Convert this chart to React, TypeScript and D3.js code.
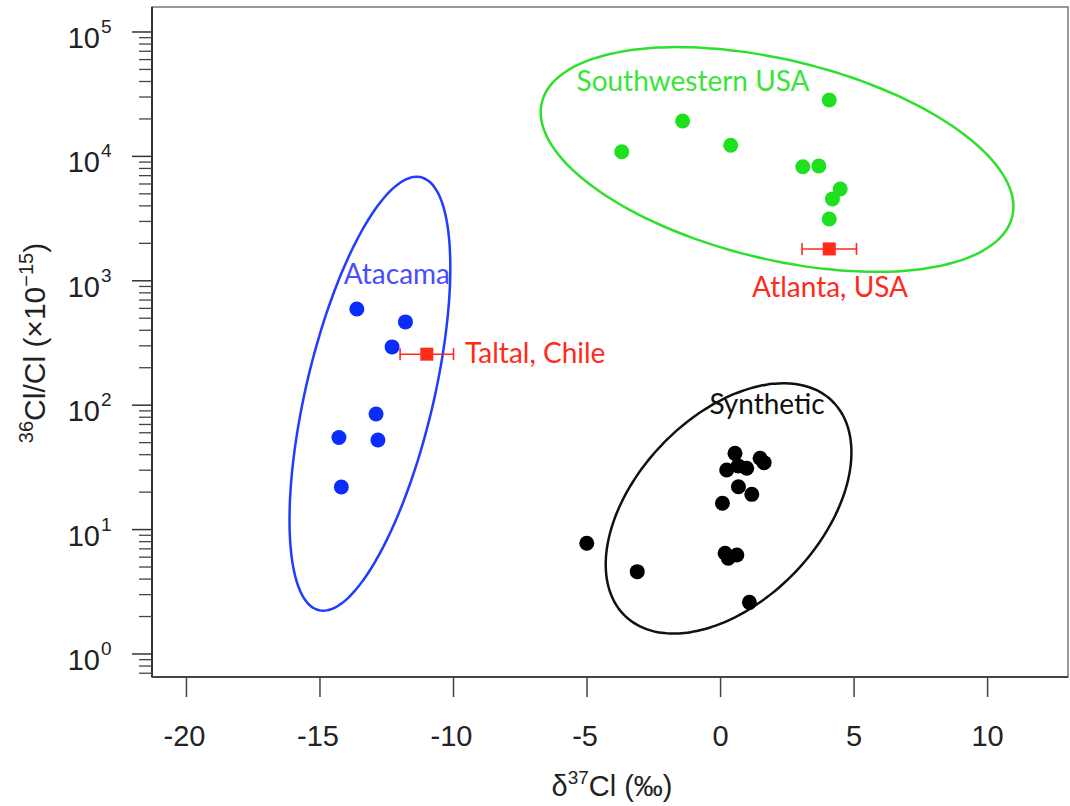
import React from "react";
import * as d3 from "d3";

// ---- Data ----
const atacamaX = [-13.62, -11.8, -12.3, -12.9, -14.29, -12.83, -14.2];
const atacamaY = [593, 467, 294, 85, 55, 52.5, 22];

const swusaX = [4.07, -1.42, -3.7, 0.38, 3.08, 3.68, 4.48, 4.19, 4.07];
const swusaY = [28400, 19270, 10900, 12280, 8260, 8370, 5470, 4550, 3140];

const synthX = [0.54, 1.48, 1.63, 0.23, 0.98, 0.66, 0.67, 1.17, 0.07, -5.01, -3.12, 0.17, 0.29, 0.61, 1.08];
const synthY = [41, 37.4, 34.5, 30.1, 31.1, 32.5, 22.1, 19.2, 16.3, 7.76, 4.59, 6.45, 5.88, 6.25, 2.6];

const sampleNames = ["Taltal, Chile", "Atlanta, USA"];
const sampleX = [-11.0, 4.07];
const sampleY = [257, 1803];
const sampleErr = [1.0, 1.02];

// ellipses: center (x, log10 y) + two conjugate semi-axis vectors
const ellipseNames = ["Atacama", "Southwestern USA", "Synthetic"];
const ellipseCx = [-13.13, 2.116, 0.3];
const ellipseCly = [2.092, 3.975, 1.17];
const ellipseUx = [1.75, 8.85, 4.6];
const ellipseUly = [1.744, -0.379, 0.45];
const ellipseVx = [2.45, 0, 0];
const ellipseVly = [0, 0.82, 0.9];

const groupLabelX = [-12.12, -1.03, 1.74];
const groupLabelY = [942, 33550, 85];
const sampleLabelX = [-9.57, 4.1];
const sampleLabelY = [218, 741];

const xTicks = [-20, -15, -10, -5, 0, 5, 10];
const yMajor = [0, 1, 2, 3, 4, 5];

export default function App() {
  const W = 1070, H = 806;
  const left = 152, right = 1068, top = 7, bottom = 677;
  const x = d3.scaleLinear().domain([-21.29, 13.01]).range([left, right]);
  const y = d3.scaleLog().domain([0.653, 158800]).range([bottom, top]);

  const minor: number[] = [];
  for (let e = -1; e <= 5; e++) {
    for (let m = 2; m <= 9; m++) {
      const v = m * Math.pow(10, e);
      const py = y(v);
      if (py <= bottom && py >= top) minor.push(v);
    }
  }

  const groups = [
    { xs: atacamaX, ys: atacamaY, color: "#0a2cff", ecolor: "#1f3cff", lcolor: "#4a4cff" },
    { xs: swusaX, ys: swusaY, color: "#1ee01e", ecolor: "#2ee02e", lcolor: "#3ae43a" },
    { xs: synthX, ys: synthY, color: "#000000", ecolor: "#111111", lcolor: "#111111" },
  ];

  const ellipsePath = (i: number) => {
    const pts: [number, number][] = d3.range(0, 361, 3).map((deg) => {
      const t = (deg * Math.PI) / 180;
      const vx = ellipseCx[i] + ellipseUx[i] * Math.cos(t) + ellipseVx[i] * Math.sin(t);
      const vly = ellipseCly[i] + ellipseUly[i] * Math.cos(t) + ellipseVly[i] * Math.sin(t);
      return [x(vx), y(Math.pow(10, vly))];
    });
    return d3.line().curve(d3.curveCardinalClosed)(pts.slice(0, -1)) as string;
  };

  const red = "#ff2a1a";
  const sans = "'Liberation Sans', Arial, sans-serif";
  const calib = "Lato, 'Open Sans', sans-serif";

  return (
    <svg width={W} height={H} style={{ position: "absolute", left: 0, top: 0, background: "#fff" }}>
      {/* frame */}
      <rect x={left} y={top} width={right - left} height={bottom - top} fill="none" stroke="#777" strokeWidth={1.5} />
      <line x1={left} x2={left} y1={top} y2={bottom} stroke="#333" strokeWidth={2} />
      <line x1={left} x2={right} y1={bottom} y2={bottom} stroke="#444" strokeWidth={2} />

      {/* y ticks */}
      {yMajor.map((e) => (
        <g key={"ym" + e}>
          <line x1={left - 20} x2={left} y1={y(Math.pow(10, e))} y2={y(Math.pow(10, e))} stroke="#333" strokeWidth={1.5} />
          <text x={100} y={y(Math.pow(10, e)) + 16} textAnchor="end" fontFamily={sans} fontSize={29} fill="#222">10</text>
          <text x={101} y={y(Math.pow(10, e)) + 1} textAnchor="start" fontFamily={sans} fontSize={19} fill="#222">{e}</text>
        </g>
      ))}
      {minor.map((v, i) => (
        <line key={"yn" + i} x1={left - 13} x2={left} y1={y(v)} y2={y(v)} stroke="#444" strokeWidth={1.3} />
      ))}

      {/* x ticks */}
      {xTicks.map((t) => (
        <g key={"xt" + t}>
          <line x1={x(t)} x2={x(t)} y1={bottom} y2={bottom + 20} stroke="#444" strokeWidth={1.5} />
          <text x={x(t) - (t < 0 ? 2 : 0)} y={746} textAnchor="middle" fontFamily={sans} fontSize={29} fill="#222">{t}</text>
        </g>
      ))}

      {/* axis titles */}
      <text x={612} y={796} textAnchor="middle" fontFamily={sans} fontSize={29} fill="#222">
        δ<tspan fontSize={19} dy={-12}>37</tspan><tspan dy={12}>Cl (‰)</tspan>
      </text>
      <text transform={`translate(45,343) rotate(-90)`} textAnchor="middle" fontFamily={sans} fontSize={30} fill="#222">
        <tspan fontSize={20} dy={-12}>36</tspan><tspan dy={12}>Cl/Cl (×10</tspan><tspan fontSize={20} dy={-12}>−15</tspan><tspan dy={12}>)</tspan>
      </text>

      {/* ellipses */}
      {groups.map((g, i) => (
        <path key={"el" + i} d={ellipsePath(i)} fill="none" stroke={g.ecolor} strokeWidth={2.5} />
      ))}

      {/* points */}
      {groups.map((g, gi) =>
        g.xs.map((v, i) => <circle key={`p${gi}-${i}`} cx={x(v)} cy={y(g.ys[i])} r={7.5} fill={g.color} />)
      )}

      {/* group labels */}
      {ellipseNames.map((n, i) => (
        <text key={"gl" + i} x={x(groupLabelX[i])} y={y(groupLabelY[i])} textAnchor="middle" fontFamily={calib} fontSize={28} fill={groups[i].lcolor}>{n}</text>
      ))}

      {/* samples with error bars */}
      {sampleNames.map((n, i) => {
        const cx = x(sampleX[i]);
        const cy = y(sampleY[i]);
        const x0 = x(sampleX[i] - sampleErr[i]);
        const x1 = x(sampleX[i] + sampleErr[i]);
        return (
          <g key={"s" + i}>
            <line x1={x0} x2={x1} y1={cy} y2={cy} stroke={red} strokeWidth={1.6} />
            <line x1={x0} x2={x0} y1={cy - 6} y2={cy + 6} stroke={red} strokeWidth={1.6} />
            <line x1={x1} x2={x1} y1={cy - 6} y2={cy + 6} stroke={red} strokeWidth={1.6} />
            <rect x={cx - 6.5} y={cy - 6.5} width={13} height={13} fill={red} />
            <text x={x(sampleLabelX[i])} y={y(sampleLabelY[i])} textAnchor={i === 0 ? "start" : "middle"} fontFamily={calib} fontSize={28} fill={red}>{n}</text>
          </g>
        );
      })}
    </svg>
  );
}
